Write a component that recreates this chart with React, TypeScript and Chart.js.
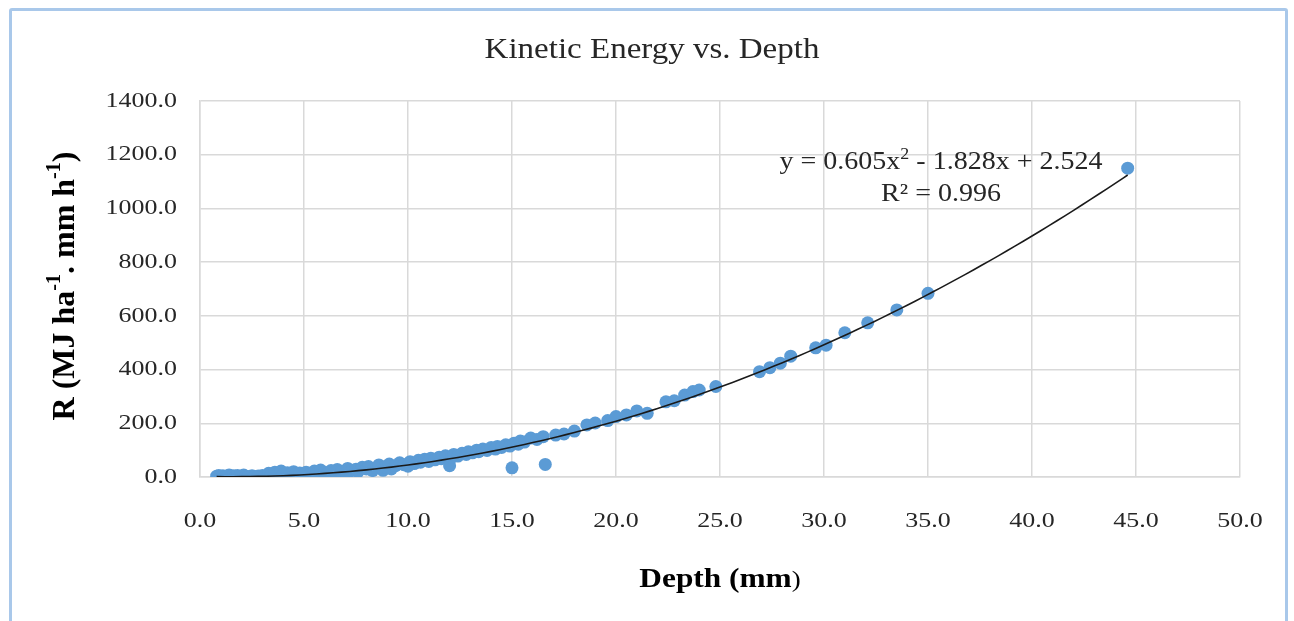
import { useEffect, useRef } from "react";
import { Chart, registerables } from "chart.js";

Chart.register(...registerables);

// ---- data ----
const depthMm = [
  0.8, 0.9, 1.0, 1.1, 1.2, 1.3, 1.4, 1.5, 1.6, 1.7, 1.8, 1.9, 2.0, 2.1, 2.2, 2.3, 2.5, 2.6, 2.8, 3.0,
  3.1, 3.3, 3.4, 3.6, 3.7, 3.9, 4.0, 4.2, 4.3, 4.5, 4.6, 4.8, 5.0, 5.1, 5.3, 5.5, 5.6, 5.8, 6.0, 6.1,
  6.3, 6.5, 6.6, 6.8, 7.0, 7.1, 7.3, 7.5, 7.6, 7.8, 8.0, 8.1, 8.3, 8.5, 8.6, 8.8, 8.9, 9.1, 9.2, 9.4,
  9.6, 9.8, 10.0, 10.1, 10.3, 10.5, 10.6, 10.8, 11.0, 11.1, 11.3, 11.5, 11.6, 11.8, 12.0, 12.1, 12.2, 12.4, 12.6, 12.8,
  12.9, 13.1, 13.3, 13.4, 13.6, 13.8, 14.0, 14.2, 14.3, 14.5, 14.7, 14.9, 15.0, 15.1, 15.3, 15.4, 15.6, 15.9, 16.2, 16.5,
  16.6, 17.1, 17.5, 18.0, 18.6, 19.0, 19.6, 20.0, 20.5, 21.0, 21.5, 22.4, 22.8, 23.3, 23.7, 24.0, 24.8, 26.9, 27.4, 27.9,
  28.4, 29.6, 30.1, 31.0, 32.1, 33.5, 35.0, 44.6,
];
const rValues = [
  3, 6, 2, 5, 1, 4, 7, 2, 5, 3, 6, 2, 4, 7, 3, 1, 5, 2, 4, 6,
  2, 14, 5, 18, 8, 22, 10, 16, 6, 20, 11, 15, 9, 18, 12, 22, 14, 26, 17, 10,
  24, 19, 28, 21, 15, 32, 24, 29, 20, 36, 30, 39, 24, 34, 45, 25, 38, 48, 30, 42,
  53, 46, 40, 57, 50, 62, 55, 66, 58, 70, 64, 74, 68, 79, 42, 73, 84, 78, 88, 84,
  94, 90, 100, 94, 104, 99, 110, 104, 114, 110, 120, 115, 34, 126, 122, 134, 130, 145, 140, 150,
  47, 156, 160, 171, 194, 201, 210, 225, 231, 246, 237, 280, 284, 305, 318, 324, 337, 392, 407, 424,
  450, 481, 491, 537, 574, 622, 684, 1150,
];
const xTickValues = [0, 5, 10, 15, 20, 25, 30, 35, 40, 45, 50];
const yTickValues = [0, 200, 400, 600, 800, 1000, 1200, 1400];
const trendCoefficients = [0.605, -1.828, 2.524]; // a x^2 + b x + c
const trendRange = [0.8, 44.6];
const chartTitle = "Kinetic Energy vs. Depth";
const xAxisTitle = "Depth (mm";
const yAxisTitleParts = ["R (MJ ha", "-1", ". mm h", "-1", ")"];
const equationParts = ["y = 0.605x", "2", " - 1.828x + 2.524"];
const rSquaredText = "R² = 0.996";

const SERIF = '"Liberation Serif", "Times New Roman", serif';

function drawStretched(ctx: CanvasRenderingContext2D, text: string, x: number, y: number, font: string, align: CanvasTextAlign, sx: number, baseline: CanvasTextBaseline = "middle", color = "#262626") {
  ctx.save();
  ctx.font = font;
  ctx.fillStyle = color;
  ctx.translate(x, y);
  ctx.scale(sx, 1);
  ctx.textAlign = align;
  ctx.textBaseline = baseline;
  ctx.fillText(text, 0, 0);
  ctx.restore();
}

type Seg = { text: string; font: string; dy: number };
function drawSegments(ctx: CanvasRenderingContext2D, segs: Seg[], color: string) {
  // draws centered at origin, alphabetic baseline at y=0
  let total = 0;
  for (const s of segs) {
    ctx.font = s.font;
    total += ctx.measureText(s.text).width;
  }
  let x = -total / 2;
  ctx.fillStyle = color;
  ctx.textAlign = "left";
  ctx.textBaseline = "alphabetic";
  for (const s of segs) {
    ctx.font = s.font;
    ctx.fillText(s.text, x, s.dy);
    x += ctx.measureText(s.text).width;
  }
}

const textPlugin = {
  id: "textPlugin",
  afterDraw(chart: any) {
    const ctx: CanvasRenderingContext2D = chart.ctx;
    const xs = chart.scales.x;
    const ys = chart.scales.y;
    const area = chart.chartArea;

    // y tick labels
    for (const v of yTickValues) {
      drawStretched(ctx, v.toFixed(1), area.left - 23, ys.getPixelForValue(v), `22px ${SERIF}`, "right", 1.18);
    }
    // x tick labels
    for (const v of xTickValues) {
      drawStretched(ctx, v.toFixed(1), xs.getPixelForValue(v), area.bottom + 44, `22px ${SERIF}`, "center", 1.18);
    }

    // title
    drawStretched(ctx, chartTitle, 652, 58, `30px ${SERIF}`, "center", 1.1, "alphabetic");

    // x axis title
    ctx.save();
    ctx.translate((area.left + area.right) / 2, 587);
    ctx.scale(1.12, 1);
    drawSegments(ctx, [
      { text: xAxisTitle, font: `bold 28px ${SERIF}`, dy: 0 },
      { text: ")", font: `24px ${SERIF}`, dy: 0 },
    ], "#000");
    ctx.restore();

    // y axis title (rotated)
    ctx.save();
    ctx.translate(64, 286);
    ctx.rotate(-Math.PI / 2);
    const big = `bold 32px ${SERIF}`;
    const small = `bold 20px ${SERIF}`;
    drawSegments(ctx, [
      { text: yAxisTitleParts[0], font: big, dy: 10 },
      { text: yAxisTitleParts[1], font: small, dy: -4 },
      { text: yAxisTitleParts[2], font: big, dy: 10 },
      { text: yAxisTitleParts[3], font: small, dy: -4 },
      { text: yAxisTitleParts[4], font: big, dy: 10 },
    ], "#000");
    ctx.restore();

    // trendline equation
    ctx.save();
    ctx.translate(941, 169);
    ctx.scale(1.12, 1);
    drawSegments(ctx, [
      { text: equationParts[0], font: `25px ${SERIF}`, dy: 0 },
      { text: equationParts[1], font: `16px ${SERIF}`, dy: -10 },
      { text: equationParts[2], font: `25px ${SERIF}`, dy: 0 },
    ], "#262626");
    ctx.restore();
    drawStretched(ctx, rSquaredText, 941, 201, `25px ${SERIF}`, "center", 1.12, "alphabetic");
  },
};

export default function App() {
  const canvasRef = useRef<HTMLCanvasElement | null>(null);

  useEffect(() => {
    if (!canvasRef.current) return;
    const points = depthMm.map((d, i) => ({ x: d, y: rValues[i] }));
    const [a, b, c] = trendCoefficients;
    const trend: { x: number; y: number }[] = [];
    for (let x = trendRange[0]; x < trendRange[1]; x += 0.4) {
      trend.push({ x, y: a * x * x + b * x + c });
    }
    trend.push({ x: trendRange[1], y: a * trendRange[1] ** 2 + b * trendRange[1] + c });

    const chart = new Chart(canvasRef.current, {
      type: "scatter",
      data: {
        datasets: [
          {
            type: "line",
            label: "Trend",
            data: trend,
            borderColor: "#1a1a1a",
            borderWidth: 1.6,
            pointRadius: 0,
            fill: false,
            tension: 0,
            order: 0,
          } as any,
          {
            label: "R",
            data: points,
            backgroundColor: "#5B9BD5",
            borderWidth: 0,
            pointRadius: 6.5,
            order: 1,
          },
        ],
      },
      options: {
        responsive: false,
        animation: false,
        devicePixelRatio: 1,
        layout: { padding: { left: 0, top: 101, right: 54, bottom: 0 } },
        plugins: { legend: { display: false }, tooltip: { enabled: false }, title: { display: false } },
        scales: {
          x: {
            type: "linear",
            min: 0,
            max: 50,
            afterBuildTicks: (s: any) => { s.ticks = xTickValues.map((v) => ({ value: v })); },
            afterFit: (s: any) => { s.height = 144; },
            ticks: { display: false },
            grid: { color: "#D9D9D9", lineWidth: 1.5, drawTicks: false },
            border: { display: true, color: "#D9D9D9", width: 1.5 },
          },
          y: {
            type: "linear",
            min: 0,
            max: 1400,
            afterBuildTicks: (s: any) => { s.ticks = yTickValues.map((v) => ({ value: v })); },
            afterFit: (s: any) => { s.width = 200; },
            ticks: { display: false },
            grid: { color: "#D9D9D9", lineWidth: 1.5, drawTicks: false },
            border: { display: true, color: "#D9D9D9", width: 1.5 },
          },
        },
      },
      plugins: [textPlugin],
    } as any);
    return () => chart.destroy();
  }, []);

  return (
    <div style={{ position: "absolute", left: 0, top: 0, width: 1294, height: 621, overflow: "hidden", background: "#fff" }}>
      <div style={{ position: "absolute", left: 9, top: 8, width: 1273, height: 700, border: "3px solid #A9C8EA", borderRadius: 3 }} />
      <canvas ref={canvasRef} width={1294} height={621} style={{ position: "absolute", left: 0, top: 0 }} />
    </div>
  );
}
